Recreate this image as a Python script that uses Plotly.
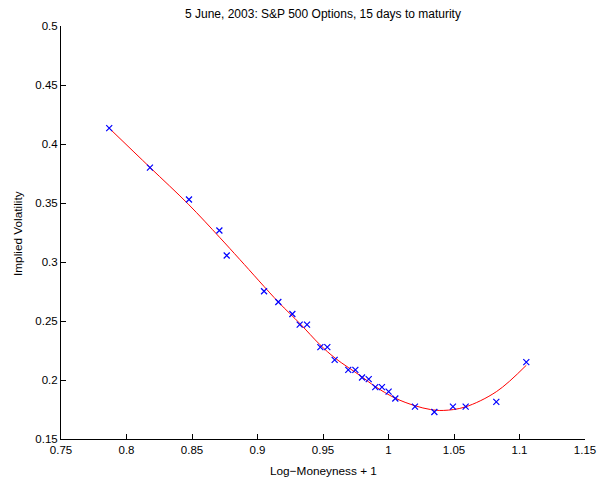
import plotly.graph_objects as go

# Observed implied volatilities (log-moneyness + 1 vs. implied vol)
moneyness = [0.7868, 0.8179, 0.8477, 0.8709, 0.8765, 0.9050, 0.9159, 0.9266,
             0.9322, 0.9378, 0.9480, 0.9533, 0.9589, 0.9693, 0.9747, 0.9798,
             0.9849, 0.9899, 0.9950, 1.0001, 1.0052, 1.0202, 1.0350, 1.0492,
             1.0589, 1.0823, 1.1052]
implied_vol = [0.4134, 0.3800, 0.3530, 0.3267, 0.3055, 0.2752, 0.2661, 0.2559,
               0.2469, 0.2469, 0.2279, 0.2279, 0.2171, 0.2086, 0.2086, 0.2021,
               0.2007, 0.1939, 0.1939, 0.1902, 0.1843, 0.1775, 0.1729, 0.1775,
               0.1775, 0.1814, 0.2152]

# Smoothed volatility smile
fit_x = [0.7868, 0.8179, 0.8472, 0.8710, 0.8866, 0.9159, 0.9325, 0.9477,
         0.9592, 0.9792, 0.9897, 1.0050, 1.0202, 1.0320, 1.0418, 1.0584,
         1.0826, 1.1052]
fit_y = [0.4134, 0.3802, 0.3490, 0.3210, 0.3020, 0.2661, 0.2477, 0.2299,
         0.2186, 0.2031, 0.1946, 0.1847, 0.1782, 0.1750, 0.1742, 0.1771,
         0.1903, 0.2125]

x_ticks = [0.75, 0.8, 0.85, 0.9, 0.95, 1.0, 1.05, 1.1, 1.15]
x_tick_text = ["0.75", "0.8", "0.85", "0.9", "0.95", "1", "1.05", "1.1", "1.15"]
y_ticks = [0.15, 0.2, 0.25, 0.3, 0.35, 0.4, 0.45, 0.5]
y_tick_text = ["0.15", "0.2", "0.25", "0.3", "0.35", "0.4", "0.45", "0.5"]

FONT = "Liberation Sans, Arial, Helvetica, sans-serif"

fig = go.Figure()
fig.add_trace(go.Scatter(
    x=fit_x, y=fit_y, mode="lines",
    line=dict(color="rgb(255,0,0)", width=1, shape="spline", smoothing=1.0),
    hoverinfo="skip", showlegend=False,
))
fig.add_trace(go.Scatter(
    x=moneyness, y=implied_vol, mode="markers",
    marker=dict(symbol="x-thin", size=6, line=dict(color="rgb(0,0,255)", width=1.2)),
    showlegend=False,
))

axis_common = dict(
    showline=True, linecolor="black", linewidth=1,
    ticks="inside", ticklen=5, tickcolor="black", tickwidth=1,
    showgrid=False, zeroline=False, mirror=False, automargin=False,
    tickfont=dict(family=FONT, size=11.5, color="black"),
)

fig.update_layout(
    width=598, height=483, autosize=False,
    margin=dict(l=61, r=13, t=26, b=44, pad=0, autoexpand=False),
    paper_bgcolor="white", plot_bgcolor="white",
    xaxis=dict(range=[0.75, 1.15], tickvals=x_ticks, ticktext=x_tick_text, **axis_common),
    yaxis=dict(range=[0.15, 0.5], tickvals=y_ticks, ticktext=y_tick_text, **axis_common),
    annotations=[
        dict(text="5 June, 2003: S&P 500 Options, 15 days to maturity",
             xref="paper", yref="paper", x=0.5, y=1, yshift=12,
             xanchor="center", yanchor="middle", showarrow=False,
             font=dict(family=FONT, size=12, color="black")),
        dict(text="Log\u2212Moneyness + 1",
             xref="paper", yref="paper", x=0.5, y=0, yshift=-32,
             xanchor="center", yanchor="middle", showarrow=False,
             font=dict(family=FONT, size=11.8, color="black")),
        dict(text="Implied Volatility", textangle=-90,
             xref="paper", yref="paper", x=0, xshift=-43, y=(439 - 234) / 413,
             xanchor="center", yanchor="middle", showarrow=False,
             font=dict(family=FONT, size=11.8, color="black")),
    ],
)

fig.write_html("out.html")
